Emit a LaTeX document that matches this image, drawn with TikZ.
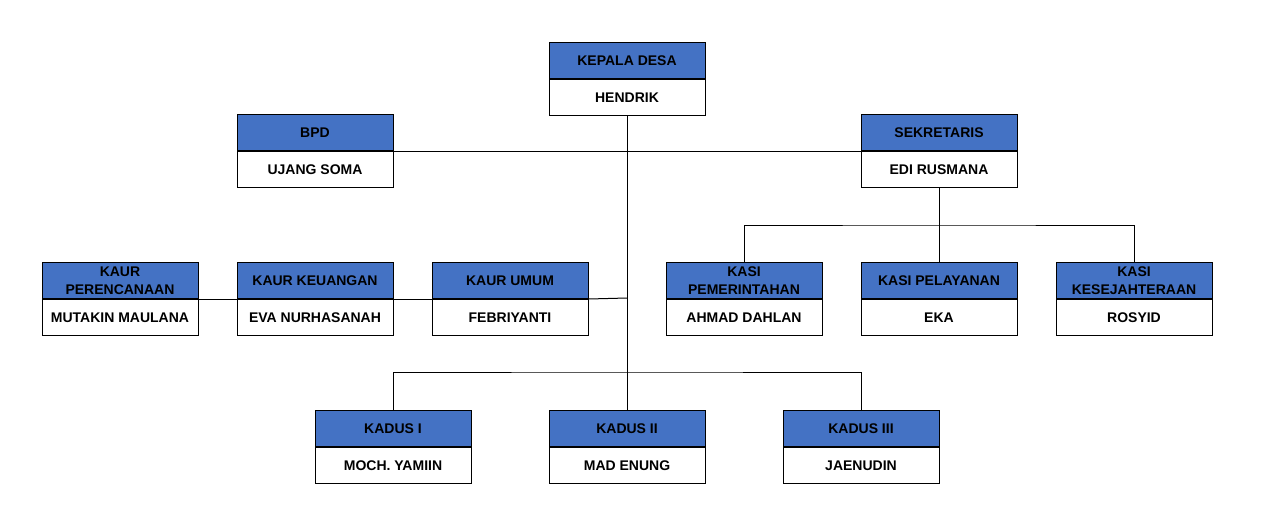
\documentclass[tikz,border=0pt]{standalone}
\usepackage{fontspec}
\setmainfont{Liberation Sans}
\usetikzlibrary{positioning}
\definecolor{headblue}{HTML}{4472C4}
\begin{document}
\begin{tikzpicture}[x=0.75pt,y=-0.75pt,line cap=rect,line join=miter,
  box/.style={draw=black,line width=0.75pt,minimum width=117pt,minimum height=27pt,
    inner sep=1pt,align=center,font=\fontsize{10.5}{13.5}\selectfont\bfseries},
  head/.style={box,fill=headblue},
  body/.style={box,fill=white,below=0pt of #1},
  wire/.style={draw=black,line width=0.75pt}]
  \useasboundingbox (0,0) rectangle (1263,511);
  % connectors first, boxes on top
  \coordinate (kadusbus) at (627,372);
  \coordinate (kasibus) at (939,225);
  \coordinate (kaurbus) at (627,298);
  % row 1
  \node[head] (kades) at (627,60.5) {KEPALA DESA};
  \node[body=kades] (kadesN) {HENDRIK};
  % row 2
  \node[head] (bpd) at (315,132.5) {BPD};
  \node[body=bpd] (bpdN) {UJANG SOMA};
  \node[head] (sekdes) at (939,132.5) {SEKRETARIS};
  \node[body=sekdes] (sekdesN) {EDI RUSMANA};
  % row 3
  \node[head] (kaur1) at (120,280.5) {KAUR\\PERENCANAAN};
  \node[body=kaur1] (kaur1N) {MUTAKIN MAULANA};
  \node[head] (kaur2) at (315,280.5) {KAUR KEUANGAN};
  \node[body=kaur2] (kaur2N) {EVA NURHASANAH};
  \node[head] (kaur3) at (510,280.5) {KAUR UMUM};
  \node[body=kaur3] (kaur3N) {FEBRIYANTI};
  \node[head] (kasi1) at (744,280.5) {KASI\\PEMERINTAHAN};
  \node[body=kasi1] (kasi1N) {AHMAD DAHLAN};
  \node[head] (kasi2) at (939,280.5) {KASI PELAYANAN};
  \node[body=kasi2] (kasi2N) {EKA};
  \node[head] (kasi3) at (1134,280.5) {KASI\\KESEJAHTERAAN};
  \node[body=kasi3] (kasi3N) {ROSYID};
  % row 4
  \node[head] (kadus1) at (393,428.5) {KADUS I};
  \node[body=kadus1] (kadus1N) {MOCH. YAMIIN};
  \node[head] (kadus2) at (627,428.5) {KADUS II};
  \node[body=kadus2] (kadus2N) {MAD ENUNG};
  \node[head] (kadus3) at (861,428.5) {KADUS III};
  \node[body=kadus3] (kadus3N) {JAENUDIN};
  % lines
  \draw[wire] (kadesN.south) -- (kadusbus);
  \draw[wire] (kadus1.north) |- (kadusbus) -| (kadus3.north);
  \draw[wire] (kadusbus) -- (kadus2.north);
  \draw[wire] (bpd.south east) -- (sekdes.south west);
  \draw[wire] (sekdesN.south) -- (kasi2.north);
  \draw[wire] (kasi1.north) |- (kasibus) -| (kasi3.north);
  \draw[wire] (kaur1.south east) -- (kaur2.south west);
  \draw[wire] (kaur2.south east) -- (kaur3.south west);
  \draw[wire] (kaur3.south east) -- (kaurbus);
\end{tikzpicture}
\end{document}
